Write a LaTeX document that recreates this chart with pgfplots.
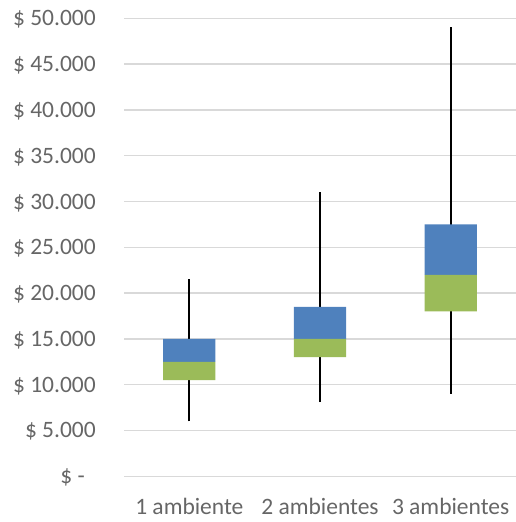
\documentclass[border=0pt]{standalone}
\usepackage{fontspec}
\setmainfont{Carlito}
\usepackage{pgfplots}
\pgfplotsset{compat=1.18}
\definecolor{boxblue}{HTML}{4F81BD}
\definecolor{boxgreen}{HTML}{9BBB59}
\definecolor{gridgray}{HTML}{D9D9D9}
\definecolor{txtgray}{HTML}{666666}
\pgfplotsset{myax/.style={
  at={(124pt,45.7pt)}, anchor=south west,
  scale only axis, width=392pt, height=458pt,
  xmin=-0.5, xmax=2.5, ymin=0, ymax=50000,
}}
\begin{document}
\begin{tikzpicture}
\path[use as bounding box] (0,0) rectangle (515pt,522pt);
\begin{axis}[myax,
  axis line style={draw=none},
  tick style={draw=none},
  major tick length=0pt,
  scaled y ticks=false,
  ymajorgrids,
  grid style={draw=gridgray, line width=1.3pt},
  ytick={0,5000,10000,15000,20000,25000,30000,35000,40000,45000,50000},
  yticklabels={{\$ -\rule{11pt}{0pt}},\$ 5.000,\$ 10.000,\$ 15.000,\$ 20.000,\$ 25.000,\$ 30.000,\$ 35.000,\$ 40.000,\$ 45.000,\$ 50.000},
  xtick={0,1,2},
  xticklabels={1 ambiente,2 ambientes,3 ambientes},
  every y tick label/.append style={anchor=base east, inner sep=0pt, xshift=-28pt, yshift=-7.5pt, font=\fontsize{23.5}{28}\selectfont, text=txtgray},
  every x tick label/.append style={anchor=base, inner sep=0pt, yshift=-38.5pt, font=\fontsize{23.5}{28}\selectfont, text=txtgray},
]
\addplot[black, line width=2pt] coordinates {(0,6000) (0,21500)};
\addplot[black, line width=2pt] coordinates {(1,8100) (1,31000)};
\addplot[black, line width=2pt] coordinates {(2,9000) (2,49000)};
\end{axis}
\begin{axis}[myax, hide axis, ybar stacked, bar width=0.4]
\addplot[draw=none, fill=none] coordinates {(0,10500) (1,13000) (2,18000)};
\addplot[draw=none, fill=boxgreen] coordinates {(0,2000) (1,2000) (2,4000)};
\addplot[draw=none, fill=boxblue] coordinates {(0,2500) (1,3500) (2,5500)};
\end{axis}
\end{tikzpicture}
\end{document}
